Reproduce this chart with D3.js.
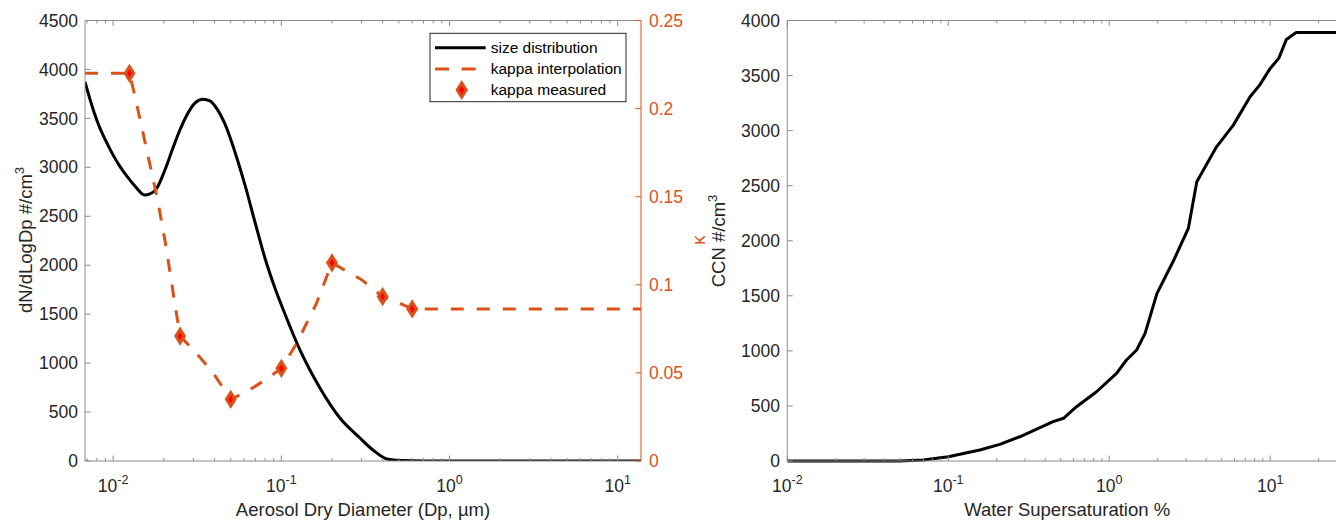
<!DOCTYPE html>
<html><head><meta charset="utf-8">
<script src="https://cdn.jsdelivr.net/npm/d3@7"></script>
<style>
body{margin:0;background:#fff;overflow:hidden}
text{font-family:"Liberation Sans",Arial,Helvetica,sans-serif}
</style>
</head><body>
<svg id="c" width="1336" height="521"></svg>
<script>
// ---------------- DATA ----------------
// Left panel: particle size distribution (Dp in µm, dN/dLogDp)
const sizeDiameter = [0.0068,0.00727,0.00778,0.00834,0.00905,0.00996,0.01096,0.01206,0.01346,0.01544,0.01655,0.0182,0.02031,0.02266,0.02494,0.02745,0.03062,0.0343,0.03761,0.04027,0.04619,0.05297,0.06075,0.06966,0.07989,0.09161,0.10505,0.12903,0.16963,0.22308,0.29339,0.35066,0.42481,0.51,0.7,13.76];
const sizeDist     = [3872,3700,3540,3400,3270,3130,3010,2910,2810,2717,2728,2789,2973,3197,3381,3535,3657,3695,3678,3627,3443,3157,2820,2442,2074,1767,1502,1134,746,439,235,112,20,4,0,0];

// kappa measured
const kappaDiameter = [0.0125,0.025,0.05,0.1,0.2,0.4,0.6];
const kappaMeasured = [0.220,0.0709,0.035,0.0526,0.1125,0.0933,0.0863];

// kappa interpolation line (vertices)
const interpDiameter = [0.0068,0.0125,0.01335,0.0153,0.01839,0.02063,0.02312,0.025,0.0313,0.0394,0.05,0.0622,0.0818,0.1,0.1233,0.162,0.2,0.3,0.4,0.5,0.6,13.76];
const interpKappa    = [0.220,0.220,0.2087,0.1830,0.1481,0.1216,0.0910,0.0709,0.0611,0.0498,0.035,0.0393,0.0465,0.0526,0.0667,0.0896,0.1125,0.1029,0.0933,0.0898,0.0863,0.0863];

// Right panel: CCN spectrum
const supersat = [0.01,0.05,0.07,0.1,0.157,0.209,0.278,0.448,0.52,0.626,0.834,1.11,1.28,1.48,1.67,1.98,2.52,3.1,3.5,4.64,5.9,7.5,8.6,10,11.3,12.6,14.5,30];
const ccn      = [0,0,10,39,100,151,220,357,388,493,629,796,917,1008,1159,1522,1825,2112,2535,2853,3050,3307,3413,3565,3656,3828,3891,3891];

// tick values
const leftYTicks  = [0,500,1000,1500,2000,2500,3000,3500,4000,4500];
const kappaTicks  = [0,0.05,0.1,0.15,0.2,0.25];
const kappaTickLabels = ["0","0.05","0.1","0.15","0.2","0.25"];
const rightYTicks = [0,500,1000,1500,2000,2500,3000,3500,4000];

// ---------------- DRAW ----------------
const svg = d3.select('#c');
const axisGray = '#8c8c8c', txt = '#262626', orange = '#D95319';
const tickFS = 17.5, labelFS = 18.5;

function isMajor(t){ const l = Math.log10(t); return Math.abs(l - Math.round(l)) < 1e-9; }

function logXTicks(g, x, top, bottom){
  x.ticks().forEach(t => {
    const px = x(t);
    if (px < x.range()[0]-0.1 || px > x.range()[1]+0.1) return;
    const len = isMajor(t) ? 5.5 : 3;
    g.append('line').attr('x1',px).attr('x2',px).attr('y1',bottom).attr('y2',bottom-len).attr('stroke',axisGray);
    g.append('line').attr('x1',px).attr('x2',px).attr('y1',top).attr('y2',top+len).attr('stroke',axisGray);
    if (isMajor(t)) {
      const e = Math.round(Math.log10(t));
      const tx = g.append('text').attr('x',px).attr('y',bottom+30.5).attr('text-anchor','middle')
        .attr('fill',txt).attr('font-size',tickFS);
      tx.append('tspan').text('10');
      tx.append('tspan').attr('dy',-7.5).attr('font-size',12.5).text(String(e));
    }
  });
}

function yTicks(g, y, ticks, labels, xAxis, dir, color, labelX, anchor){
  ticks.forEach((t,i) => {
    const py = y(t);
    g.append('line').attr('x1',xAxis).attr('x2',xAxis+dir*5.5).attr('y1',py).attr('y2',py).attr('stroke',color);
    g.append('text').attr('x',labelX).attr('y',py).attr('dy','0.35em').attr('text-anchor',anchor)
      .attr('fill',color === axisGray ? txt : color).attr('font-size',tickFS).text(labels[i]);
  });
}

// ===== Left panel =====
const L = {l:85, r:641, t:20.5, b:461};
const xL = d3.scaleLog().domain([0.0068,13.76]).range([L.l,L.r]);
const yL = d3.scaleLinear().domain([0,4500]).range([L.b,L.t]);
const kL = d3.scaleLinear().domain([0,0.25]).range([L.b,L.t]);
const gL = svg.append('g');

const defs = svg.append('defs');
defs.append('clipPath').attr('id','clipL').append('rect').attr('x',L.l).attr('y',L.t-2).attr('width',L.r-L.l).attr('height',L.b-L.t+2);

// size distribution
gL.append('path').attr('clip-path','url(#clipL)')
  .datum(sizeDiameter.map((d,i)=>[d,sizeDist[i]]))
  .attr('d', d3.line().x(d=>xL(d[0])).y(d=>yL(d[1])).curve(d3.curveMonotoneX))
  .attr('fill','none').attr('stroke','#000').attr('stroke-width',3);

// kappa interpolation
gL.append('path').attr('clip-path','url(#clipL)')
  .datum(interpDiameter.map((d,i)=>[d,interpKappa[i]]))
  .attr('d', d3.line().x(d=>xL(d[0])).y(d=>kL(d[1])))
  .attr('fill','none').attr('stroke',orange).attr('stroke-width',3).attr('stroke-dasharray','13,13');

// kappa measured diamonds
const diamond = (cx,cy,hw,hh) => `M${cx},${cy-hh}L${cx+hw},${cy}L${cx},${cy+hh}L${cx-hw},${cy}Z`;
kappaDiameter.forEach((d,i)=>{
  gL.append('path').attr('d', diamond(xL(d), kL(kappaMeasured[i]), 4.3, 6.8))
    .attr('fill','#ff0000').attr('stroke',orange).attr('stroke-width',3).attr('stroke-linejoin','miter');
});

// frame
gL.append('line').attr('x1',L.l).attr('x2',L.r).attr('y1',L.b).attr('y2',L.b).attr('stroke',axisGray);
gL.append('line').attr('x1',L.l).attr('x2',L.r).attr('y1',L.t).attr('y2',L.t).attr('stroke',axisGray);
gL.append('line').attr('x1',L.l).attr('x2',L.l).attr('y1',L.t).attr('y2',L.b).attr('stroke',axisGray);
gL.append('line').attr('x1',L.r).attr('x2',L.r).attr('y1',L.t).attr('y2',L.b).attr('stroke',orange);
logXTicks(gL, xL, L.t, L.b);
yTicks(gL, yL, leftYTicks, leftYTicks.map(String), L.l, 1, axisGray, 78, 'end');
yTicks(gL, kL, kappaTicks, kappaTickLabels, L.r, -1, orange, 649, 'start');

// axis labels
const ylab = gL.append('text').attr('transform','translate(31.5,240) rotate(-90)').attr('text-anchor','middle')
  .attr('fill',txt).attr('font-size',labelFS);
ylab.append('tspan').text('dN/dLogDp #/cm');
ylab.append('tspan').attr('dy',-8).attr('font-size',13).text('3');
gL.append('text').attr('transform','translate(705,240) rotate(-90)').attr('text-anchor','middle')
  .attr('fill',orange).attr('font-size',labelFS).text('κ');
gL.append('text').attr('x',(L.l+L.r)/2).attr('y',516).attr('text-anchor','middle')
  .attr('fill',txt).attr('font-size',labelFS).text('Aerosol Dry Diameter (Dp, µm)');

// legend
const lg = gL.append('g');
lg.append('rect').attr('x',430).attr('y',33.3).attr('width',196).attr('height',68.4).attr('fill','#fff').attr('stroke','#262626').attr('stroke-width',1);
const legendItems = ['size distribution','kappa interpolation','kappa measured'];
const legendY = [47.7,69,90];
lg.append('line').attr('x1',435).attr('x2',485.7).attr('y1',legendY[0]).attr('y2',legendY[0]).attr('stroke','#000').attr('stroke-width',3);
lg.append('line').attr('x1',435).attr('x2',485.7).attr('y1',legendY[1]).attr('y2',legendY[1]).attr('stroke',orange).attr('stroke-width',3).attr('stroke-dasharray','14,12.7');
lg.append('path').attr('d',diamond(461.7,legendY[2],4.5,7.2)).attr('fill','#ff0000').attr('stroke',orange).attr('stroke-width',3);
legendItems.forEach((s,i)=>{
  lg.append('text').attr('x',490.7).attr('y',legendY[i]).attr('dy','0.35em').attr('fill','#000').attr('font-size',15.5).text(s);
});

// ===== Right panel =====
const R = {l:787.3, r:1347, t:20.5, b:461};
const xR = d3.scaleLog().domain([0.01,30]).range([R.l,R.r]);
const yR = d3.scaleLinear().domain([0,4000]).range([R.b,R.t]);
const gR = svg.append('g');
defs.append('clipPath').attr('id','clipR').append('rect').attr('x',R.l).attr('y',R.t).attr('width',R.r-R.l).attr('height',R.b-R.t+2);

gR.append('path').attr('clip-path','url(#clipR)')
  .datum(supersat.map((d,i)=>[d,ccn[i]]))
  .attr('d', d3.line().x(d=>xR(d[0])).y(d=>yR(d[1])))
  .attr('fill','none').attr('stroke','#000').attr('stroke-width',3).attr('stroke-linejoin','round');

gR.append('line').attr('x1',R.l).attr('x2',R.r).attr('y1',R.b).attr('y2',R.b).attr('stroke',axisGray);
gR.append('line').attr('x1',R.l).attr('x2',R.r).attr('y1',R.t).attr('y2',R.t).attr('stroke',axisGray);
gR.append('line').attr('x1',R.l).attr('x2',R.l).attr('y1',R.t).attr('y2',R.b).attr('stroke',axisGray);
gR.append('line').attr('x1',R.r).attr('x2',R.r).attr('y1',R.t).attr('y2',R.b).attr('stroke',axisGray);
logXTicks(gR, xR, R.t, R.b);
yTicks(gR, yR, rightYTicks, rightYTicks.map(String), R.l, 1, axisGray, 780, 'end');

const ylab2 = gR.append('text').attr('transform','translate(725,241) rotate(-90)').attr('text-anchor','middle')
  .attr('fill',txt).attr('font-size',labelFS);
ylab2.append('tspan').text('CCN #/cm');
ylab2.append('tspan').attr('dy',-8).attr('font-size',13).text('3');
gR.append('text').attr('x',(R.l+R.r)/2).attr('y',516).attr('text-anchor','middle')
  .attr('fill',txt).attr('font-size',labelFS).text('Water Supersaturation %');
</script>
</body></html>
